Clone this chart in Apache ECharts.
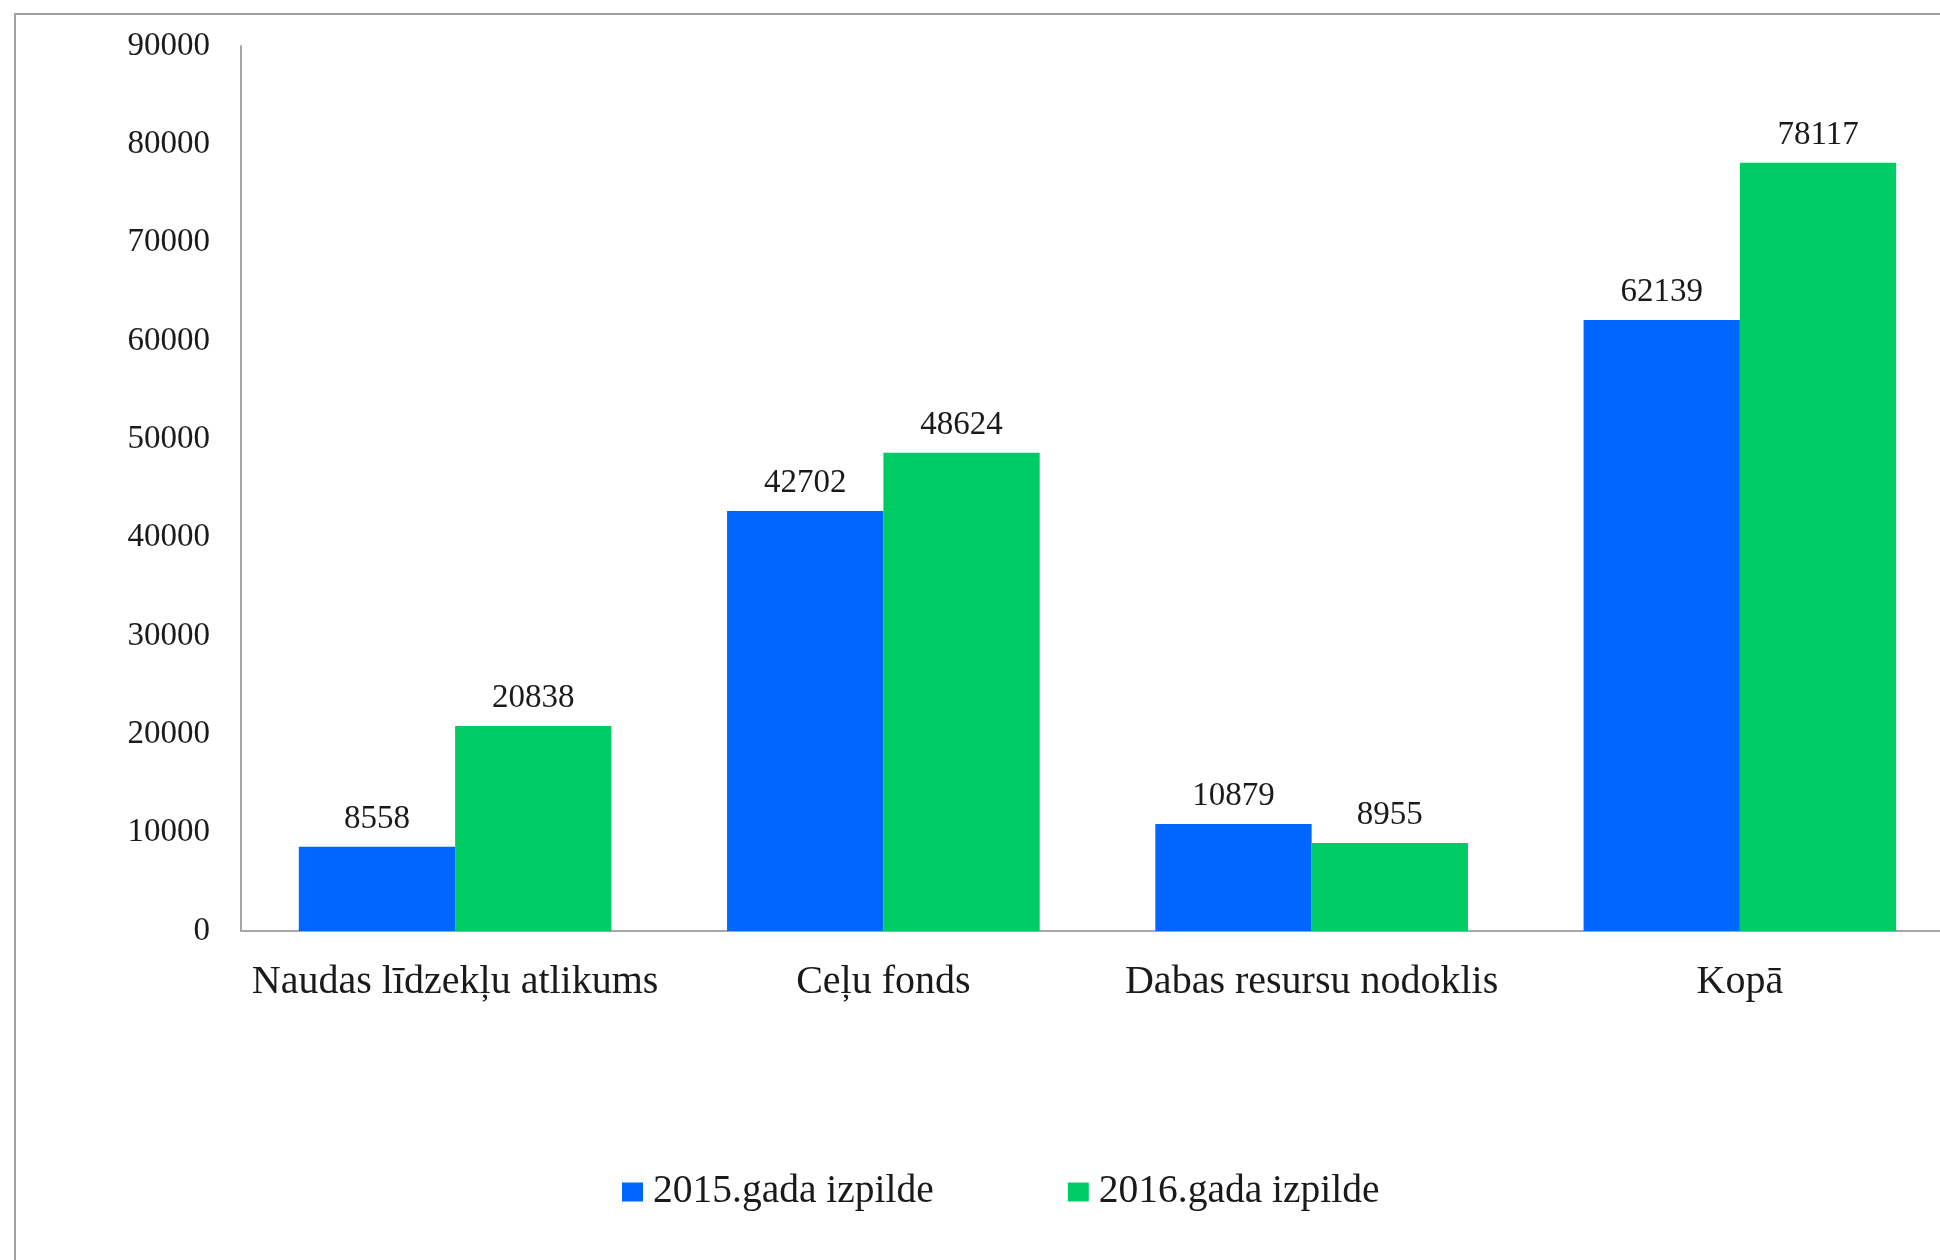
<!DOCTYPE html>
<html>
<head>
<meta charset="utf-8">
<script src="https://cdn.jsdelivr.net/npm/echarts@6/dist/echarts.min.js"></script>
<style>
html,body{margin:0;padding:0;background:#fff;overflow:hidden;}
#c{width:1960px;height:1260px;}
</style>
</head>
<body>
<div id="c"></div>
<script>
const categories = ['Naudas līdzekļu atlikums', 'Ceļu fonds', 'Dabas resursu nodoklis', 'Kopā'];
const seriesNames = ['2015.gada izpilde', '2016.gada izpilde'];
const values2015 = [8558, 42702, 10879, 62139];
const values2016 = [20838, 48624, 8955, 78117];
const yTicks = { min: 0, max: 90000, interval: 10000 };

const font = '"Liberation Serif", "Times New Roman", serif';
const chart = echarts.init(document.getElementById('c'), null, { renderer: 'canvas' });
const labelStyle = {
  show: true, position: 'top', distance: 11,
  fontFamily: font, fontSize: 33, color: '#1a1a1a'
};
chart.setOption({
  backgroundColor: '#ffffff',
  animation: false,
  graphic: [{
    type: 'rect', left: 14, top: 13, z: -1,
    shape: { x: 0, y: 0, width: 2100, height: 1400 },
    style: { fill: '#ffffff', stroke: '#a0a0a0', lineWidth: 2 }
  }],
  grid: { left: 241, top: 46, right: 6, height: 885, containLabel: false },
  legend: {
    data: seriesNames,
    left: 622, top: 1172, padding: 0,
    icon: 'rect', itemWidth: 21, itemHeight: 19, itemGap: 134,
    textStyle: { fontFamily: font, fontSize: 39.5, color: '#1a1a1a', padding: [0, 0, 0, 5] }
  },
  xAxis: {
    type: 'category', data: categories,
    axisLine: { show: true, lineStyle: { color: '#a6a6a6', width: 2 } },
    axisTick: { show: false },
    axisLabel: { margin: 31, fontFamily: font, fontSize: 40, color: '#1a1a1a', interval: 0 },
    splitLine: { show: false }
  },
  yAxis: {
    type: 'value', min: yTicks.min, max: yTicks.max, interval: yTicks.interval,
    axisLine: { show: true, lineStyle: { color: '#a6a6a6', width: 2 } },
    axisTick: { show: false },
    axisLabel: { margin: 31, fontFamily: font, fontSize: 33, color: '#1a1a1a',
      padding: [6, 0, 0, 0],
      formatter: function (v) { return String(v); } },
    splitLine: { show: false }
  },
  series: [
    { name: seriesNames[0], type: 'bar', data: values2015, barGap: '0%', barCategoryGap: '27%',
      itemStyle: { color: '#0066ff' }, label: labelStyle },
    { name: seriesNames[1], type: 'bar', data: values2016, barGap: '0%', barCategoryGap: '27%',
      itemStyle: { color: '#00cc66' }, label: labelStyle }
  ]
});
</script>
</body>
</html>
